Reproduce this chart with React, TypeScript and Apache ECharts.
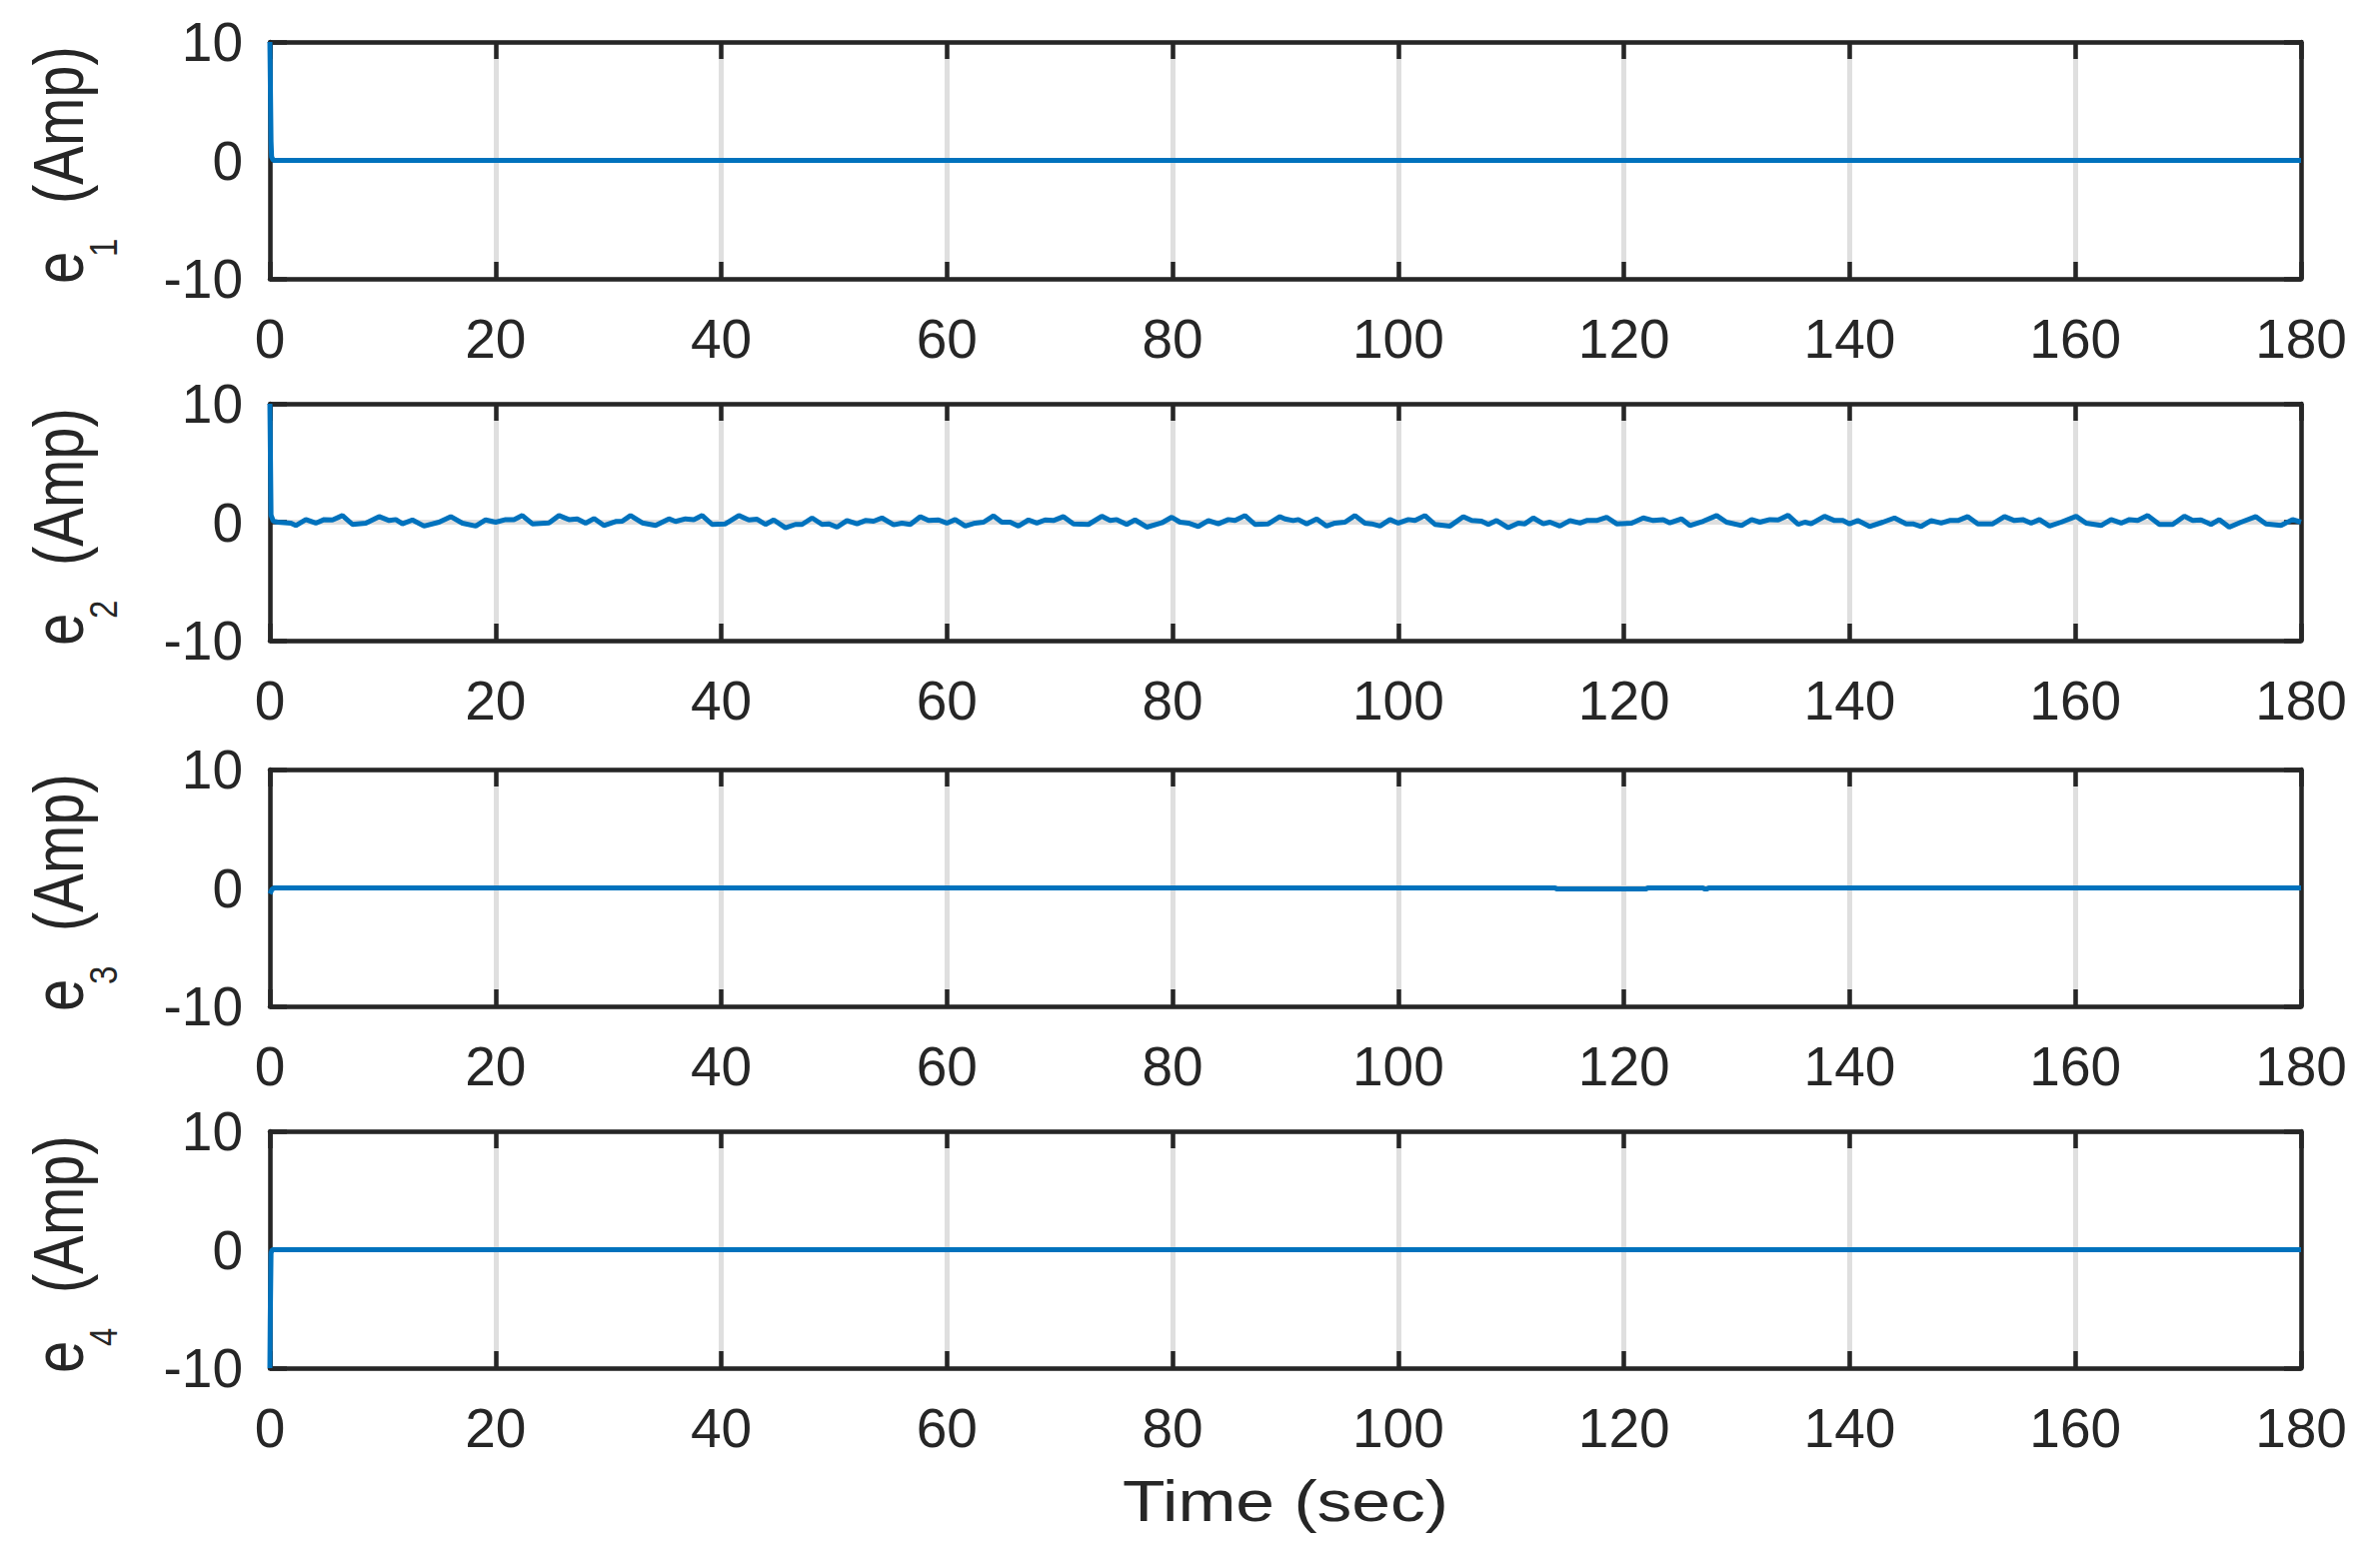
import React, { useEffect, useRef } from "react";
import * as echarts from "echarts";

// ---- Axis settings (tick labels) ----
const xMin = 0;
const xMax = 180;
const xInterval = 20;
const yMin = -10;
const yMax = 10;
const yInterval = 10;

const xAxisTitle = "Time (sec)";
const yAxisBase = "e";
const yAxisSubs = ["1", "2", "3", "4"];
const yAxisUnit = "(Amp)";

// ---- Series data ----
const e1Time = [0, 0.1, 0.15, 0.3, 180];
const e1Value = [10, 1.6, 0.3, 0, 0];

const e2Time = [
  0, 0.1, 0.3, 0.68, 1.86, 2.3, 3.19, 4.07, 4.81, 5.55, 6.43, 7.32, 8.5, 9.68, 10.57, 11.16,
  11.75, 12.63, 13.66, 14.99, 16.03, 17.06, 18.24, 19.12, 20.01, 20.9, 21.63, 22.37, 23.26,
  24.73, 25.62, 26.5, 27.24, 27.98, 28.72, 29.6, 30.64, 31.23, 31.96, 33.0, 34.18, 35.36,
  35.95, 36.83, 37.57, 38.31, 39.19, 40.37, 41.56, 42.44, 43.18, 43.92, 44.65, 45.69, 46.57,
  47.16, 48.05, 48.93, 49.52, 50.26, 51.14, 52.03, 52.77, 53.51, 54.24, 55.28, 56.01, 56.75,
  57.64, 58.37, 59.26, 59.99, 60.73, 61.62, 62.5, 63.24, 64.13, 64.86, 65.6, 66.34, 67.23,
  67.97, 68.7, 69.44, 70.33, 71.21, 72.54, 73.72, 74.46, 75.05, 75.93, 76.67, 77.71, 79.03,
  79.92, 80.66, 81.4, 82.28, 83.17, 84.05, 84.94, 85.53, 86.41, 87.3, 88.48, 89.51, 89.96,
  90.69, 91.14, 91.88, 92.77, 93.65, 94.39, 95.27, 96.16, 97.04, 97.63, 98.38, 99.26, 100.0,
  100.89, 101.48, 102.36, 103.25, 104.58, 105.76, 106.5, 107.38, 107.98, 108.71, 109.75,
  110.63, 111.22, 111.96, 112.85, 113.44, 114.32, 115.21, 116.1, 116.69, 117.57, 118.46,
  119.35, 120.68, 121.71, 122.6, 123.48, 124.07, 125.11, 125.84, 127.03, 128.21, 129.09,
  130.42, 131.31, 132.04, 132.93, 133.67, 134.55, 135.44, 136.03, 136.59, 137.77, 138.66,
  139.4, 139.99, 140.72, 141.76, 142.94, 143.97, 145.01, 145.6, 146.33, 147.22, 148.11,
  148.85, 149.59, 150.47, 151.36, 152.68, 153.72, 154.6, 155.34, 156.08, 156.82, 157.71,
  158.74, 160.07, 160.96, 162.28, 163.17, 164.06, 164.79, 165.53, 166.42, 167.45, 168.63,
  169.66, 170.4, 171.14, 172.02, 172.76, 173.64, 174.68, 176.0, 176.89, 178.22, 179.25, 180,
];
const e2Value = [
  10, 0.6, 0.1, 0.0, -0.08, -0.28, 0.22, -0.08, 0.22, 0.19, 0.56, -0.19, -0.08, 0.47, 0.14, 0.22,
  -0.14, 0.19, -0.33, 0.0, 0.47, -0.08, -0.33, 0.19, 0.0, 0.22, 0.22, 0.56, -0.14,
  -0.06, 0.56, 0.22, 0.28, -0.08, 0.31, -0.28, 0.06, 0.08, 0.56, -0.06, -0.28, 0.28,
  0.06, 0.28, 0.22, 0.56, -0.19, -0.14, 0.56, 0.19, 0.25, -0.19, 0.19, -0.47, -0.19,
  -0.19, 0.36, -0.19, -0.14, -0.42, 0.14, -0.14, 0.14, 0.08, 0.36, -0.22, -0.08, -0.19,
  0.47, 0.14, 0.19, -0.08, 0.22, -0.33, -0.08, 0.0, 0.53, 0.0, 0.0, -0.33, 0.19,
  -0.08, 0.19, 0.14, 0.47, -0.14, -0.19, 0.5, 0.14, 0.22, -0.19, 0.19, -0.42, -0.06,
  0.42, 0.0, -0.08, -0.36, 0.14, -0.14, 0.22, 0.14, 0.56, -0.19, -0.14, 0.47, 0.28,
  0.14, 0.22, -0.14, 0.28, -0.33, -0.08, 0.0, 0.56, -0.08, -0.14, -0.33, 0.22, -0.08,
  0.22, 0.14, 0.56, -0.19, -0.33, 0.47, 0.14, 0.08, -0.19, 0.14, -0.47,
  -0.08, -0.14, 0.36, -0.14, 0.0, -0.33, 0.14, -0.08, 0.14, 0.14, 0.42,
  -0.14, -0.08, 0.36, 0.14, 0.22, -0.06, 0.28, -0.28, 0.08, 0.56, 0.0,
  -0.28, 0.22, 0.0, 0.22, 0.19, 0.58, -0.19, 0.0, -0.14, 0.5, 0.14,
  0.14, -0.14, 0.14, -0.36, 0.0, 0.36, -0.14, -0.14, -0.36, 0.14, -0.08,
  0.14, 0.14, 0.47, -0.14, -0.14, 0.47, 0.14, 0.22, -0.08, 0.22, -0.33,
  0.0, 0.5, -0.08, -0.28, 0.22, -0.08, 0.22, 0.14, 0.56, -0.19, -0.19,
  0.5, 0.14, 0.19, -0.19, 0.22, -0.42, 0.0, 0.47, -0.14, -0.28, 0.22, 0.0,
];

const e3Time = [0, 0.2, 0.4, 113.9, 114, 122, 122.1, 127, 127.1, 127.4, 127.5, 180];
const e3Value = [-0.5, -0.1, 0, 0, -0.08, -0.08, 0, 0, -0.08, -0.08, 0, 0];

const e4Time = [0, 0.03, 0.1, 0.2, 180];
const e4Value = [-10, -6, -0.3, 0, 0];

const seriesTimes = [e1Time, e2Time, e3Time, e4Time];
const seriesValues = [e1Value, e2Value, e3Value, e4Value];

// ---- Layout / style ----
const W = 2381;
const H = 1562;
const PLOT_LEFT = 270;
const PLOT_RIGHT = 2302;
const PANEL_TOPS = [42, 404, 770, 1132];
const PANEL_H = 237;
const DARK = "#262626";
const GRID_GRAY = "#dfdfdf";
const BLUE = "#0072BD";
const FONT = "'Liberation Sans', Arial, Helvetica, sans-serif";

export default function App() {
  const ref = useRef<HTMLDivElement>(null);

  useEffect(() => {
    document.body.style.margin = "0";
    if (!ref.current) return;
    const chart = echarts.init(ref.current, undefined, { renderer: "svg" });

    const grids: any[] = [];
    const xAxes: any[] = [];
    const yAxes: any[] = [];
    const series: any[] = [];
    const graphics: any[] = [];

    const frameLine = { show: true, onZero: false, lineStyle: { color: DARK, width: 4.5 } };
    const frameTick = { show: true, inside: true, length: 17, lineStyle: { color: DARK, width: 4.5 } };

    for (let i = 0; i < 4; i++) {
      grids.push({
        left: PLOT_LEFT,
        top: PANEL_TOPS[i],
        width: PLOT_RIGHT - PLOT_LEFT,
        height: PANEL_H,
        containLabel: false,
      });
      const xBase = { gridIndex: i, type: "value", min: xMin, max: xMax, interval: xInterval };
      const yBase = { gridIndex: i, type: "value", min: yMin, max: yMax, interval: yInterval };
      // main bottom x axis
      xAxes.push({
        ...xBase,
        position: "bottom",
        z: 1,
        axisLine: frameLine,
        axisTick: frameTick,
        axisLabel: {
          show: true,
          margin: 32,
          fontSize: 55,
          color: DARK,
          fontFamily: FONT,
          showMinLabel: true,
          showMaxLabel: true,
        },
        splitLine: { show: false },
      });
      // mirrored top x axis
      xAxes.push({
        ...xBase,
        position: "top",
        z: 1,
        axisLine: frameLine,
        axisTick: frameTick,
        axisLabel: { show: false },
        splitLine: { show: false },
      });
      // x grid lines
      xAxes.push({
        ...xBase,
        position: "bottom",
        z: 0,
        axisLine: { show: false, onZero: false },
        axisTick: { show: false },
        axisLabel: { show: false },
        splitLine: { show: true, lineStyle: { color: GRID_GRAY, width: 5 } },
      });
      // main left y axis
      yAxes.push({
        ...yBase,
        position: "left",
        z: 1,
        axisLine: frameLine,
        axisTick: frameTick,
        axisLabel: {
          show: true,
          margin: 27,
          fontSize: 55,
          color: DARK,
          fontFamily: FONT,
          showMinLabel: true,
          showMaxLabel: true,
        },
        splitLine: { show: false },
      });
      // mirrored right y axis
      yAxes.push({
        ...yBase,
        position: "right",
        z: 1,
        axisLine: frameLine,
        axisTick: frameTick,
        axisLabel: { show: false },
        splitLine: { show: false },
      });
      // y grid lines
      yAxes.push({
        ...yBase,
        position: "left",
        z: 0,
        axisLine: { show: false, onZero: false },
        axisTick: { show: false },
        axisLabel: { show: false },
        splitLine: { show: true, lineStyle: { color: GRID_GRAY, width: 5 } },
      });

      const t = seriesTimes[i];
      const v = seriesValues[i];
      series.push({
        type: "line",
        xAxisIndex: i * 3,
        yAxisIndex: i * 3,
        data: t.map((tt, k) => [tt, v[k]]),
        showSymbol: false,
        symbol: "none",
        clip: false,
        z: 3,
        lineStyle: { color: BLUE, width: 5 },
      });

      // y axis title e_i (Amp), rotated
      graphics.push({
        type: "group",
        x: 83,
        y: PANEL_TOPS[i] + 123,
        rotation: Math.PI / 2,
        scaleY: 1.2,
        children: [
          {
            type: "text",
            x: -119,
            y: -20,
            style: {
              text: yAxisBase,
              fontSize: 58,
              fontFamily: FONT,
              fill: DARK,
              align: "left",
              verticalAlign: "middle",
            },
          },
          {
            type: "text",
            x: -92,
            y: 17,
            style: {
              text: yAxisSubs[i],
              fontSize: 33,
              fontFamily: FONT,
              fill: DARK,
              align: "left",
              verticalAlign: "middle",
            },
          },
          {
            type: "text",
            x: -39,
            y: -20,
            style: {
              text: yAxisUnit,
              fontSize: 58,
              fontFamily: FONT,
              fill: DARK,
              align: "left",
              verticalAlign: "middle",
            },
          },
        ],
      });
    }

    graphics.push({
      type: "text",
      x: (PLOT_LEFT + PLOT_RIGHT) / 2,
      y: 1502,
      scaleX: 1.2,
      style: {
        text: xAxisTitle,
        fontSize: 58,
        fontFamily: FONT,
        fill: DARK,
        align: "center",
        verticalAlign: "middle",
      },
    });

    chart.setOption({
      animation: false,
      backgroundColor: "#ffffff",
      grid: grids,
      xAxis: xAxes,
      yAxis: yAxes,
      series,
      graphic: graphics,
    });

    return () => {
      chart.dispose();
    };
  }, []);

  return <div ref={ref} style={{ width: W, height: H }} />;
}
